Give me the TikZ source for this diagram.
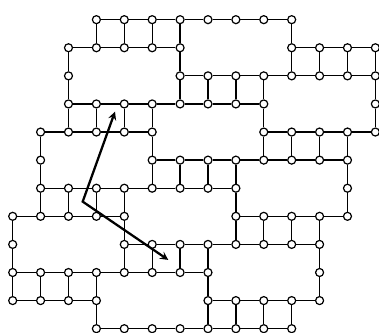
\documentclass[tikz,border=0pt]{standalone}
\usepackage{tikz}

\tikzset{
    site/.style={draw, circle, fill=white, inner sep=0pt, minimum size=6pt, line width=0.9pt},
    bond/.style={line width=0.95pt},
    vec/.style={<->, line width=1.7pt}
}

\begin{document}
\begin{tikzpicture}[>=stealth, x=20.925pt, y=-21.07pt]
    \useasboundingbox (-0.455,-0.70) rectangle (13.13,11.15);
    % horizontal runs: row/first/last
    \foreach \r/\a/\b in {0/3/10, 1/2/6, 1/10/13, 2/6/13, 3/2/9, 4/1/5, 4/9/13, 5/5/12,
                          6/1/8, 7/0/4, 7/8/12, 8/4/11, 9/0/7, 10/0/3, 10/7/11, 11/3/10} {
        \foreach \c in {\a,...,\b}
            \node[site] (n\r-\c) at (\c,\r) {};
    }
    % single sites on the long sides
    \node[site] (n2-2) at (2,2) {};
    \node[site] (n3-13) at (13,3) {};
    \node[site] (n5-1) at (1,5) {};
    \node[site] (n6-12) at (12,6) {};
    \node[site] (n8-0) at (0,8) {};
    \node[site] (n9-11) at (11,9) {};
    % horizontal bonds
    \foreach \r/\a/\b in {0/3/10, 1/2/6, 1/10/13, 2/6/13, 3/2/9, 4/1/5, 4/9/13, 5/5/12,
                          6/1/8, 7/0/4, 7/8/12, 8/4/11, 9/0/7, 10/0/3, 10/7/11, 11/3/10} {
        \pgfmathtruncatemacro{\e}{\b-1}
        \foreach \c in {\a,...,\e} {
            \pgfmathtruncatemacro{\d}{\c+1}
            \draw[bond] (n\r-\c) -- (n\r-\d);
        }
    }
    % vertical bonds: upper row/columns
    \foreach \r/\cols in {0/{3,4,5,6,10}, 1/{2,6,10,11,12,13}, 2/{2,6,7,8,9,13}, 3/{2,3,4,5,9,13},
                          4/{1,5,9,10,11,12}, 5/{1,5,6,7,8,12}, 6/{1,2,3,4,8,12}, 7/{0,4,8,9,10,11},
                          8/{0,4,5,6,7,11}, 9/{0,1,2,3,7,11}, 10/{3,7,8,9,10}} {
        \pgfmathtruncatemacro{\s}{\r+1}
        \foreach \c in \cols
            \draw[bond] (n\r-\c) -- (n\s-\c);
    }
    % the two vectors
    \coordinate (O) at (2.509,6.477);
    \coordinate (A) at (3.667,3.274);
    \coordinate (B) at (5.577,8.552);
    \draw[vec] (A) -- (O) -- (B);
\end{tikzpicture}
\end{document}
